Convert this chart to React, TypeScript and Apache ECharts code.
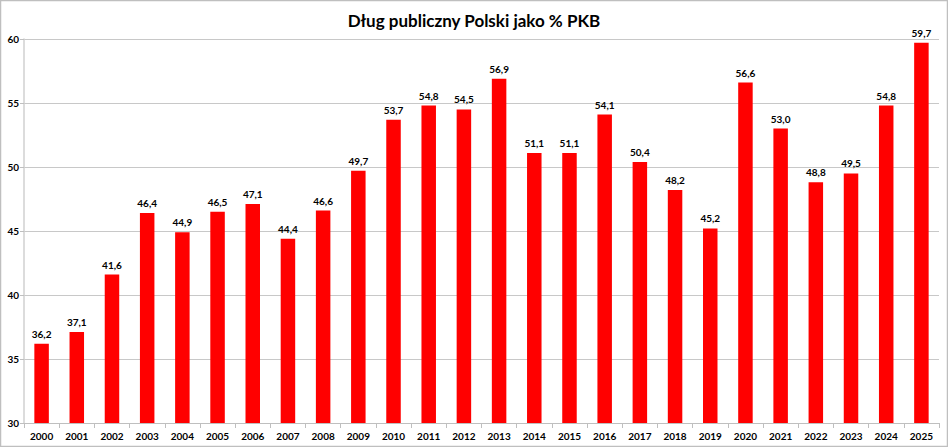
import React, { useEffect, useRef } from "react";
import * as echarts from "echarts";

const years = ["2000","2001","2002","2003","2004","2005","2006","2007","2008","2009","2010","2011","2012","2013","2014","2015","2016","2017","2018","2019","2020","2021","2022","2023","2024","2025"];
const debt = [36.2,37.1,41.6,46.4,44.9,46.5,47.1,44.4,46.6,49.7,53.7,54.8,54.5,56.9,51.1,51.1,54.1,50.4,48.2,45.2,56.6,53.0,48.8,49.5,54.8,59.7];
const title = "Dług publiczny Polski jako % PKB";
const yMin = 30;
const yMax = 60;
const yStep = 5;

const FONT = "Lato, 'Open Sans', sans-serif";

export default function App() {
  const ref = useRef<HTMLDivElement>(null);
  useEffect(() => {
    document.body.style.margin = "0";
    const chart = echarts.init(ref.current!, null, { renderer: "svg" });
    chart.setOption({
      animation: false,
      backgroundColor: "#ffffff",
      title: {
        text: title,
        left: "center",
        top: 7,
        textStyle: { fontFamily: FONT, fontWeight: "bold", fontSize: 17, color: "#000" },
      },
      graphic: [
        {
          type: "rect",
          shape: { x: 0.5, y: 0.5, width: 947, height: 446 },
          style: { fill: "none", stroke: "#bfbfbf", lineWidth: 1.5 },
          silent: true,
        },
      ],
      grid: { left: 24, right: 9, top: 39, bottom: 24, containLabel: false },
      xAxis: {
        type: "category",
        data: years,
        axisLine: { show: true, lineStyle: { color: "#bfbfbf", width: 1 } },
        axisTick: { show: true, alignWithLabel: false, length: 5, lineStyle: { color: "#bfbfbf" } },
        axisLabel: { fontFamily: FONT, fontWeight: "bold", fontSize: 10, color: "#000", margin: 8, interval: 0 },
      },
      yAxis: {
        type: "value",
        min: yMin,
        max: yMax,
        interval: yStep,
        axisLine: { show: true, lineStyle: { color: "#d0d0d0", width: 1.5 } },
        axisTick: { show: true, length: 4, lineStyle: { color: "#bfbfbf" } },
        splitLine: { show: true, lineStyle: { color: "#c8c8c8", width: 1.2 } },
        axisLabel: { fontFamily: FONT, fontWeight: "bold", fontSize: 10, color: "#000", margin: 5 },
      },
      series: [
        {
          type: "bar",
          data: debt,
          barWidth: 14.5,
          itemStyle: { color: "#ff0000" },
          label: {
            show: true,
            position: "top",
            distance: 5,
            fontFamily: FONT,
            fontWeight: "bold",
            fontSize: 10,
            color: "#000",
            formatter: (p: any) => Number(p.value).toFixed(1).replace(".", ","),
          },
        },
      ],
    });
    return () => chart.dispose();
  }, []);
  return <div ref={ref} style={{ width: 948, height: 447 }} />;
}
